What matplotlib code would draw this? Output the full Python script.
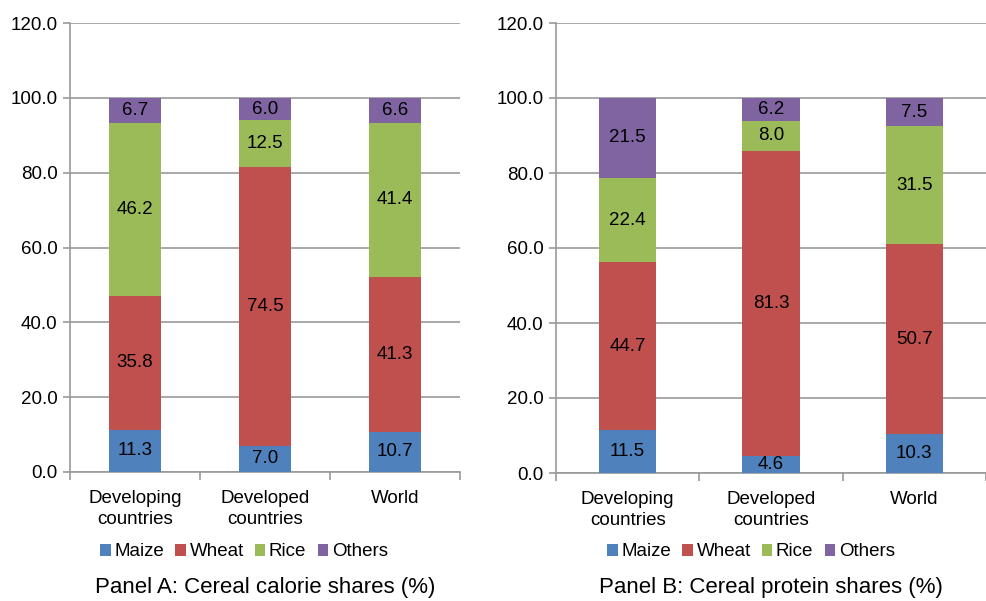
import matplotlib
matplotlib.use("Agg")
import matplotlib.pyplot as plt
from matplotlib.patches import Patch
import numpy as np

plt.rcParams['font.family'] = ['Liberation Sans', 'DejaVu Sans']

categories = ["Developing\ncountries", "Developed\ncountries", "World"]
series = ["Maize", "Wheat", "Rice", "Others"]
colors = ["#4F81BD", "#C0504D", "#9BBB59", "#8064A2"]

calorie_maize = [11.3, 7.0, 10.7]
calorie_wheat = [35.8, 74.5, 41.3]
calorie_rice = [46.2, 12.5, 41.4]
calorie_others = [6.7, 6.0, 6.6]

protein_maize = [11.5, 4.6, 10.3]
protein_wheat = [44.7, 81.3, 50.7]
protein_rice = [22.4, 8.0, 31.5]
protein_others = [21.5, 6.2, 7.5]

yticks = [0, 20, 40, 60, 80, 100, 120]

W, H = 987, 601
fig = plt.figure(figsize=(W / 100, H / 100), dpi=100)
grid_c = "#9A9A9A"


def panel(rect, data, title, legend_x):
    ax = fig.add_axes(rect)
    x = np.arange(len(categories))
    bottom = np.zeros(len(categories))
    for vals, col in zip(data, colors):
        vals = np.array(vals)
        ax.bar(x, vals, 0.4, bottom=bottom, color=col, zorder=3)
        for xi, b, v in zip(x, bottom, vals):
            ax.text(xi, b + v / 2, f"{v:.1f}", ha="center", va="center",
                    fontsize=13.5, color="black", zorder=4)
        bottom = bottom + vals
    ax.set_xlim(-0.5, 2.5)
    ax.set_ylim(0, 120)
    ax.set_yticks(yticks)
    ax.set_yticklabels([f"{v:.1f}" for v in yticks], fontsize=13.5)
    ax.yaxis.grid(True, color=grid_c, linewidth=1.2, zorder=0)
    ax.set_xticks(x)
    ax.set_xticklabels(categories, fontsize=13.5, linespacing=1.3)
    ax.set_xticks([-0.5, 0.5, 1.5, 2.5], minor=True)
    ax.tick_params(axis="x", which="major", length=0, pad=13)
    ax.tick_params(axis="x", which="minor", length=6, color=grid_c, width=1.2)
    ax.tick_params(axis="y", length=5, color=grid_c, width=1.2, pad=4)
    for s in ("top", "right"):
        ax.spines[s].set_visible(False)
    for s in ("left", "bottom"):
        ax.spines[s].set_color(grid_c)
        ax.spines[s].set_linewidth(1.2)
    handles = [Patch(facecolor=c, edgecolor="none") for c in colors]
    fig.legend(handles, series, loc="center", ncol=4, frameon=False,
               bbox_to_anchor=(legend_x / W, 1 - 552 / H), fontsize=13.5,
               handlelength=0.55, handleheight=0.55, handletextpad=0.2,
               columnspacing=0.6, borderaxespad=0, borderpad=0)
    cx = rect[0] + rect[2] / 2
    fig.text(cx, 1 - 587 / H, title, ha="center", va="center", fontsize=16)
    return ax


panel([70 / W, 129 / H, 390 / W, 449 / H],
      [calorie_maize, calorie_wheat, calorie_rice, calorie_others],
      "Panel A: Cereal calorie shares (%)", 244)
panel([556 / W, 128 / H, 430 / W, 450 / H],
      [protein_maize, protein_wheat, protein_rice, protein_others],
      "Panel B: Cereal protein shares (%)", 751)

fig.savefig("out.png", dpi=100)
